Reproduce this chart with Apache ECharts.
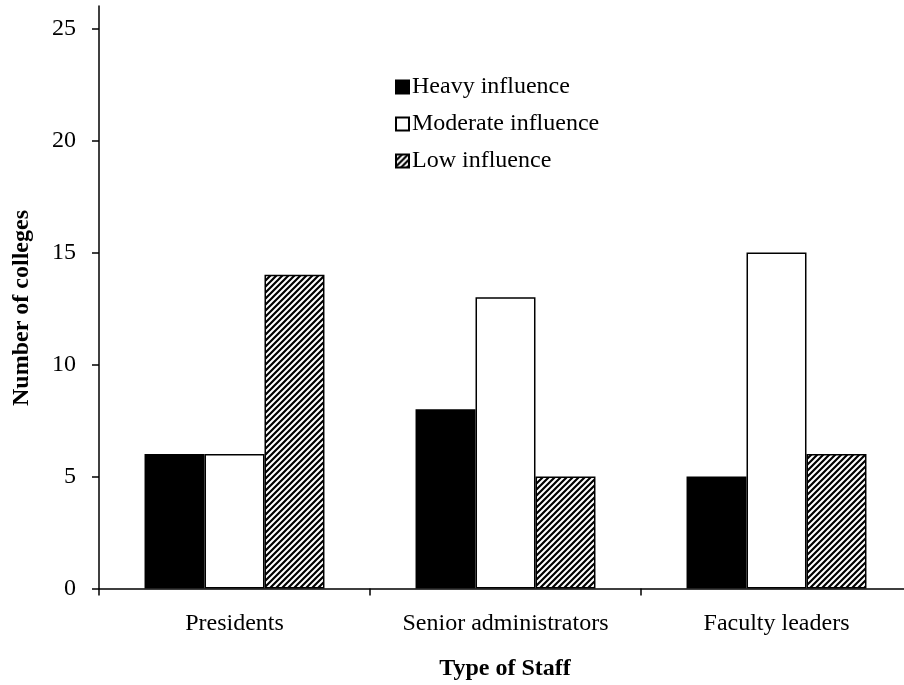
<!DOCTYPE html>
<html><head><meta charset="utf-8">
<script src="https://cdn.jsdelivr.net/npm/echarts@6/dist/echarts.min.js"></script>
<style>html,body{margin:0;padding:0;background:#fff;overflow:hidden;width:904px;height:685px}#c{width:920px;height:685px}</style>
</head><body><div id="c"></div>
<script>
const categories = ['Presidents', 'Senior administrators', 'Faculty leaders'];
const heavy = [6, 8, 5];
const moderate = [6, 13, 15];
const low = [14, 5, 6];
const yTicks = [0, 5, 10, 15, 20, 25];

const pc = document.createElement('canvas');
pc.width = 6; pc.height = 6;
const g = pc.getContext('2d');
g.fillStyle = '#fff'; g.fillRect(0, 0, 6, 6);
g.strokeStyle = '#000'; g.lineWidth = 2.2;
g.beginPath();
g.moveTo(-1, 7); g.lineTo(7, -1);
g.moveTo(-4, 4); g.lineTo(4, -4);
g.moveTo(2, 10); g.lineTo(10, 2);
g.stroke();
const hatch = { image: pc, repeat: 'repeat' };

const font = 'Liberation Serif, Times New Roman, serif';
const chart = echarts.init(document.getElementById('c'));
const border = { borderColor: '#000', borderWidth: 1.5 };
chart.setOption({
  animation: false,
  textStyle: { fontFamily: font, color: '#000' },
  grid: { left: 99, right: 8, top: 6, bottom: 96.5, containLabel: false },
  legend: {
    orient: 'vertical', left: 390, top: 70, itemWidth: 13, itemHeight: 13, itemGap: 13,
    icon: 'rect',
    textStyle: { fontFamily: font, fontSize: 24, color: '#000', padding: [0, 0, 0, -2] },
    data: ['Heavy influence', 'Moderate influence', 'Low influence']
  },
  xAxis: {
    type: 'category', data: categories,
    axisLine: { lineStyle: { color: '#000', width: 1.5 } },
    axisTick: { show: true, length: 7, lineStyle: { color: '#000', width: 1.5 } },
    axisLabel: { fontFamily: font, fontSize: 24, color: '#000', margin: 23 }
  },
  yAxis: {
    type: 'value', min: 0, max: 26, interval: 5,
    splitLine: { show: false },
    axisLine: { show: true, lineStyle: { color: '#000', width: 1.5 } },
    axisTick: { show: true, length: 7, customValues: yTicks, lineStyle: { color: '#000', width: 1.5 } },
    axisLabel: { fontFamily: font, fontSize: 24, color: '#000', margin: 23, customValues: yTicks }
  },
  graphic: [
    { type: 'text', x: 505, y: 669, style: { text: 'Type of Staff', font: 'bold 24px ' + font, fill: '#000', align: 'center', verticalAlign: 'middle' } },
    { type: 'text', rotation: Math.PI / 2, x: 22, y: 308, style: { text: 'Number of colleges', font: 'bold 24px ' + font, fill: '#000', align: 'center', verticalAlign: 'middle' } }
  ],
  series: [
    { name: 'Heavy influence', type: 'bar', data: heavy, barGap: '0%', barCategoryGap: '33.6%', itemStyle: Object.assign({ color: '#000' }, border) },
    { name: 'Moderate influence', type: 'bar', data: moderate, itemStyle: Object.assign({ color: '#fff' }, border) },
    { name: 'Low influence', type: 'bar', data: low, itemStyle: Object.assign({ color: hatch }, border) }
  ]
});
</script></body></html>
